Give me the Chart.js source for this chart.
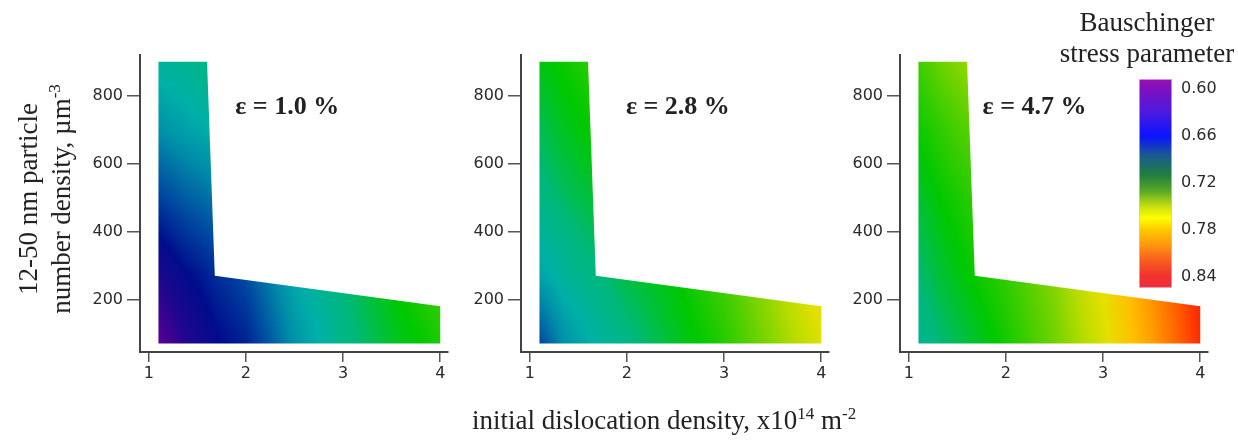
<!DOCTYPE html>
<html>
<head>
<meta charset="utf-8">
<script src="https://cdn.jsdelivr.net/npm/chart.js@4.4.1/dist/chart.umd.min.js"></script>
<style>
  body { margin: 0; background: #fff; }
  #wrap { position: relative; width: 1238px; height: 440px; overflow: hidden;
          font-family: "Liberation Serif", "Times New Roman", serif; color: #222; }
  canvas { position: absolute; top: 0; }
  .t { position: absolute; font-size: 27px; white-space: nowrap; }
  .t sup { font-size: 17px; line-height: 0; vertical-align: 10px; }
</style>
</head>
<body>
<div id="wrap">
  <canvas id="p0" width="390" height="400" style="left:70px"></canvas>
  <canvas id="p1" width="390" height="400" style="left:451px"></canvas>
  <canvas id="p2" width="390" height="400" style="left:830px"></canvas>
  <canvas id="cb" width="138" height="300" style="left:1100px"></canvas>
  <div class="t" style="left:-105px; top:166px; width:300px; line-height:33px; text-align:center; transform:rotate(-90deg)">12-50 nm particle<br>number density, µm<sup>-3</sup></div>
  <div class="t" style="left:472px; top:404px; line-height:32px">initial dislocation density, x10<sup>14</sup> m<sup>-2</sup></div>
  <div class="t" style="left:1037px; top:7px; width:220px; line-height:31px; text-align:center">Bauschinger<br>stress parameter</div>
</div>
<script>
// axis ticks
const xTicks = [1, 2, 3, 4];
const yTicks = [200, 400, 600, 800];
const cbTicks = [0.60, 0.66, 0.72, 0.78, 0.84];
const cbRange = [0.587, 0.854];

// strain of each panel, %
const strains = ['1.0', '2.8', '4.7'];

// outline of the simulated region (dislocation density x1e14, particle density)
const regionX = [1.1, 1.6, 1.68, 4.0, 4.0, 1.1];
const regionY = [900, 900, 270, 180, 70, 70];

// Bauschinger stress parameter, rows follow gridY,
// upper rows only cover the vertical part of the L
const gridX = [1.1, 1.35, 1.7, 2.0, 2.5, 3.0, 3.5, 4.0];
const gridY = [70, 270, 500, 700, 900];
const bsp10 = [
  [0.600, 0.622, 0.643, 0.652, 0.689, 0.711, 0.725, 0.734],
  [0.628, 0.642, 0.656, 0.667, 0.698, 0.716, 0.730, 0.741],
  [0.663, 0.671, 0.680],
  [0.688, 0.694, 0.702],
  [0.705, 0.708, 0.713]
];
const bsp28 = [
  [0.665, 0.688, 0.703, 0.712, 0.725, 0.736, 0.752, 0.768],
  [0.695, 0.705, 0.714, 0.722, 0.730, 0.741, 0.757, 0.776],
  [0.712, 0.718, 0.725],
  [0.720, 0.726, 0.732],
  [0.728, 0.732, 0.738]
];
const bsp47 = [
  [0.708, 0.716, 0.725, 0.733, 0.748, 0.767, 0.795, 0.830],
  [0.716, 0.724, 0.732, 0.738, 0.752, 0.772, 0.800, 0.835],
  [0.724, 0.731, 0.738],
  [0.732, 0.738, 0.746],
  [0.740, 0.748, 0.756]
];

// colour scales (maps look a bit darker than the bar)
const mapStops = [
  [0.600, '#5a0092'], [0.625, '#22068f'], [0.645, '#000c8c'], [0.665, '#0046a0'],
  [0.685, '#0088a8'], [0.700, '#00afa8'], [0.715, '#00b87a'], [0.730, '#00c800'],
  [0.745, '#5cd000'], [0.760, '#b8dc00'], [0.770, '#e4e000'], [0.785, '#ffc000'],
  [0.800, '#ff9000'], [0.815, '#ff6000'], [0.830, '#ff2c00'], [0.850, '#f01414']
];
const barStops = [
  [0.587, '#9a10b0'], [0.600, '#8010c0'], [0.630, '#4a1ae0'], [0.660, '#0a14ff'],
  [0.685, '#1c5a90'], [0.710, '#20803c'], [0.730, '#58a828'], [0.750, '#c8e010'],
  [0.765, '#ffff00'], [0.780, '#ffc800'], [0.800, '#ff9410'], [0.820, '#f85a20'],
  [0.840, '#f03030'], [0.854, '#f0303c']
];

const hex = h => [1, 3, 5].map(i => parseInt(h.slice(i, i + 2), 16));
const mapRgb = mapStops.map(s => [s[0], hex(s[1])]);

function colorAt(v) {
  if (v <= mapRgb[0][0]) return mapRgb[0][1];
  for (let i = 1; i < mapRgb.length; i++) {
    if (v <= mapRgb[i][0]) {
      const [v0, c0] = mapRgb[i - 1], [v1, c1] = mapRgb[i];
      const t = (v - v0) / (v1 - v0);
      return c0.map((c, k) => c + (c1[k] - c) * t);
    }
  }
  return mapRgb[mapRgb.length - 1][1];
}

function rowValue(row, xv) {
  const n = row.length - 1;
  if (xv <= gridX[0]) return row[0];
  if (xv >= gridX[n]) return row[n];
  let i = 0;
  while (gridX[i + 1] < xv) i++;
  const t = (xv - gridX[i]) / (gridX[i + 1] - gridX[i]);
  return row[i] + (row[i + 1] - row[i]) * t;
}

function fieldValue(rows, xv, yv) {
  const n = gridY.length - 1;
  if (yv <= gridY[0]) return rowValue(rows[0], xv);
  if (yv >= gridY[n]) return rowValue(rows[n], xv);
  let j = 0;
  while (gridY[j + 1] < yv) j++;
  const t = (yv - gridY[j]) / (gridY[j + 1] - gridY[j]);
  const a = rowValue(rows[j], xv), b = rowValue(rows[j + 1], xv);
  return a + (b - a) * t;
}

// paints the map inside the outline dataset
const fieldPlugin = {
  id: 'field',
  beforeDatasetsDraw(chart, args, opts) {
    const { ctx, chartArea: a, scales: { x, y } } = chart;
    const w = Math.round(a.right - a.left), h = Math.round(a.bottom - a.top);
    const off = document.createElement('canvas');
    off.width = w; off.height = h;
    const octx = off.getContext('2d');
    const img = octx.createImageData(w, h);
    for (let j = 0; j < h; j++) {
      const yv = y.getValueForPixel(a.top + j + 0.5);
      for (let i = 0; i < w; i++) {
        const c = colorAt(fieldValue(opts.values, x.getValueForPixel(a.left + i + 0.5), yv));
        const k = (j * w + i) * 4;
        img.data[k] = c[0]; img.data[k + 1] = c[1]; img.data[k + 2] = c[2]; img.data[k + 3] = 255;
      }
    }
    octx.putImageData(img, 0, 0);

    const pts = chart.getDatasetMeta(0).data;
    ctx.save();
    ctx.beginPath();
    pts.forEach((p, n) => n ? ctx.lineTo(p.x, p.y) : ctx.moveTo(p.x, p.y));
    ctx.closePath();
    ctx.clip();
    ctx.drawImage(off, a.left, a.top);
    ctx.restore();
  }
};

const labelPlugin = {
  id: 'strainLabel',
  afterDatasetsDraw(chart, args, opts) {
    const { ctx, scales: { x, y } } = chart;
    ctx.save();
    ctx.font = 'bold 26px "Liberation Serif"';
    ctx.fillStyle = '#222';
    ctx.textBaseline = 'middle';
    ctx.fillText(opts.text, x.getPixelForValue(opts.at[0]), y.getPixelForValue(opts.at[1]));
    ctx.restore();
  }
};

const tickFont = { family: 'DejaVu Sans', size: 16 };
const values = [bsp10, bsp28, bsp47];
const labelAt = [[1.89, 767], [1.99, 767], [1.76, 767]];

strains.forEach((s, n) => {
  new Chart(document.getElementById('p' + n), {
    type: 'scatter',
    data: {
      datasets: [{
        data: regionX.map((xv, i) => ({ x: xv, y: regionY[i] })),
        pointRadius: 0,
        showLine: false
      }]
    },
    options: {
      responsive: false,
      animation: false,
      events: [],
      layout: { padding: { top: 55, right: 12, left: 0, bottom: 0 } },
      plugins: {
        legend: { display: false },
        tooltip: { enabled: false },
        field: { values: values[n] },
        strainLabel: { text: 'ε = ' + s + ' %', at: labelAt[n] }
      },
      scales: {
        x: {
          type: 'linear', min: 0.91, max: 4.08,
          afterBuildTicks: sc => { sc.ticks = xTicks.map(v => ({ value: v })); },
          afterFit: sc => { sc.height = 48; },
          grid: { drawOnChartArea: false, tickLength: 10, lineWidth: 1.5, color: '#555' },
          border: { display: true, color: '#444', width: 2 },
          ticks: { font: tickFont, color: '#2a2a2a', padding: 2, maxRotation: 0, callback: v => String(v) }
        },
        y: {
          type: 'linear', min: 45, max: 920,
          afterBuildTicks: sc => { sc.ticks = yTicks.map(v => ({ value: v })); },
          afterFit: sc => { sc.width = 70; },
          grid: { drawOnChartArea: false, tickLength: 13, lineWidth: 1.5, color: '#555' },
          border: { display: true, color: '#444', width: 2 },
          ticks: { font: tickFont, color: '#2a2a2a', padding: 4, callback: v => String(v) }
        }
      }
    },
    plugins: [fieldPlugin, labelPlugin]
  });
});

// colour bar
new Chart(document.getElementById('cb'), {
  type: 'bar',
  data: {
    labels: [''],
    datasets: [{
      data: [cbRange],
      barPercentage: 1,
      categoryPercentage: 1,
      borderWidth: 1,
      borderColor: '#ecb8ec',
      borderSkipped: false,
      backgroundColor(c) {
        const chart = c.chart;
        if (!chart.chartArea) return null;
        const sc = chart.scales.y;
        const v0 = barStops[0][0], v1 = barStops[barStops.length - 1][0];
        const g = chart.ctx.createLinearGradient(0, sc.getPixelForValue(v0), 0, sc.getPixelForValue(v1));
        barStops.forEach(([v, col]) => g.addColorStop((v - v0) / (v1 - v0), col));
        return g;
      }
    }]
  },
  options: {
    responsive: false,
    animation: false,
    events: [],
    layout: { padding: { top: 79, bottom: 12, left: 39, right: 0 } },
    plugins: { legend: { display: false }, tooltip: { enabled: false } },
    scales: {
      x: { display: false },
      y: {
        position: 'right', reverse: true, min: cbRange[0], max: cbRange[1],
        afterBuildTicks: sc => { sc.ticks = cbTicks.map(v => ({ value: v })); },
        afterFit: sc => { sc.width = 66; },
        grid: { display: false },
        border: { display: false },
        ticks: { font: tickFont, color: '#2a2a2a', padding: 1, callback: v => v.toFixed(2) }
      }
    }
  }
});
</script>
</body>
</html>
